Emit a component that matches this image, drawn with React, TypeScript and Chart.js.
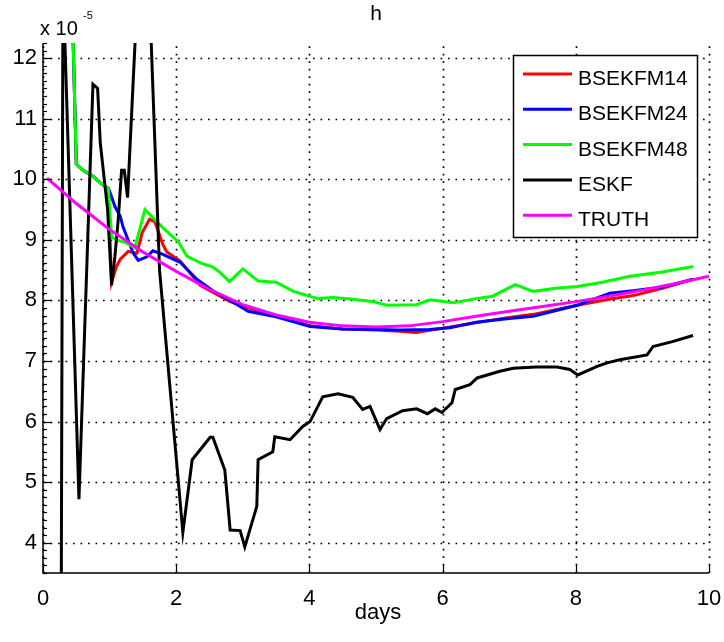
import React, { useEffect, useRef } from "react";
import { Chart, registerables } from "chart.js";

Chart.register(...registerables);

// ---------- data (in units of 1e-5) ----------
const seriesNames = ["BSEKFM14", "BSEKFM24", "BSEKFM48", "ESKF", "TRUTH"];
const seriesColors = ["#ff0000", "#0000ff", "#00ff00", "#000000", "#ff00ff"];

const bsekfm14Days = [0.44, 0.5, 0.6, 0.75, 0.88, 0.98, 1.03, 1.1, 1.16, 1.28, 1.41, 1.49, 1.6, 1.68, 1.8, 1.86, 2.06, 2.36, 2.81, 3.08, 3.5, 4.01, 4.5, 5.0, 5.36, 5.6, 6.16, 6.5, 7.0, 7.36, 8.02, 8.5, 8.86, 9.3, 9.76];
const bsekfm14Values = [12.8, 10.25, 10.15, 10.05, 9.92, 9.85, 8.3, 8.55, 8.68, 8.81, 8.78, 9.12, 9.34, 9.3, 8.92, 8.8, 8.65, 8.25, 7.98, 7.88, 7.75, 7.58, 7.53, 7.51, 7.49, 7.47, 7.57, 7.63, 7.72, 7.77, 7.92, 8.02, 8.08, 8.2, 8.35];

const bsekfm24Days = [0.44, 0.5, 0.6, 0.75, 0.88, 0.98, 1.0, 1.08, 1.16, 1.2, 1.35, 1.43, 1.56, 1.65, 1.8, 2.06, 2.31, 2.55, 2.81, 3.08, 3.5, 4.01, 4.5, 5.0, 5.36, 5.8, 6.11, 6.5, 7.0, 7.36, 8.02, 8.51, 8.86, 9.3, 9.76];
const bsekfm24Values = [12.8, 10.25, 10.15, 10.05, 9.92, 9.85, 9.8, 9.55, 9.39, 9.22, 8.79, 8.66, 8.72, 8.82, 8.76, 8.63, 8.35, 8.16, 8.0, 7.82, 7.73, 7.57, 7.53, 7.52, 7.51, 7.52, 7.55, 7.64, 7.7, 7.74, 7.92, 8.12, 8.16, 8.22, 8.35];

const bsekfm48Days = [0.44, 0.5, 0.6, 0.75, 0.88, 0.98, 1.03, 1.1, 1.25, 1.38, 1.53, 1.65, 1.8, 1.9, 2.03, 2.16, 2.36, 2.55, 2.66, 2.8, 3.0, 3.23, 3.5, 3.76, 4.13, 4.36, 4.65, 4.96, 5.16, 5.61, 5.81, 6.16, 6.5, 6.75, 7.09, 7.36, 7.7, 8.02, 8.4, 8.81, 9.3, 9.76];
const bsekfm48Values = [12.8, 10.25, 10.15, 10.05, 9.92, 9.85, 9.05, 9.0, 8.95, 8.87, 9.5, 9.37, 9.2, 9.1, 8.97, 8.73, 8.62, 8.55, 8.46, 8.31, 8.52, 8.32, 8.3, 8.15, 8.03, 8.05, 8.02, 7.98, 7.92, 7.93, 8.01, 7.96, 8.03, 8.07, 8.26, 8.15, 8.2, 8.23, 8.3, 8.4, 8.47, 8.56];

const eskfDays = [0.27, 0.3, 0.54, 0.75, 0.82, 0.86, 0.97, 1.03, 1.08, 1.13, 1.18, 1.22, 1.27, 1.52, 1.75, 2.1, 2.24, 2.51, 2.55, 2.73, 2.81, 2.96, 3.03, 3.21, 3.23, 3.45, 3.48, 3.71, 3.9, 4.01, 4.2, 4.43, 4.65, 4.8, 4.91, 5.06, 5.16, 5.4, 5.61, 5.77, 5.89, 5.99, 6.14, 6.19, 6.41, 6.52, 6.86, 7.06, 7.4, 7.72, 7.91, 8.03, 8.32, 8.47, 8.66, 9.07, 9.16, 9.45, 9.76];
const eskfValues = [1.5, 13.3, 4.72, 11.57, 11.5, 10.6, 9.5, 8.25, 8.73, 9.34, 10.15, 10.15, 9.7, 15.4, 8.5, 4.17, 5.37, 5.74, 5.74, 5.2, 4.21, 4.2, 3.93, 4.6, 5.37, 5.5, 5.75, 5.7, 5.92, 6.0, 6.41, 6.46, 6.4, 6.2, 6.25, 5.87, 6.05, 6.18, 6.21, 6.13, 6.21, 6.15, 6.31, 6.53, 6.61, 6.72, 6.83, 6.88, 6.9, 6.9, 6.86, 6.77, 6.91, 6.97, 7.02, 7.1, 7.24, 7.32, 7.42];

const truthDays = [0.06, 0.5, 1.0, 1.5, 2.0, 2.5, 3.0, 3.5, 4.0, 4.5, 5.0, 5.5, 6.0, 6.5, 7.0, 7.5, 8.0, 8.5, 9.0, 9.5, 10.0];
const truthValues = [10.02, 9.6, 9.17, 8.8, 8.48, 8.18, 7.93, 7.76, 7.64, 7.58, 7.56, 7.58, 7.65, 7.74, 7.82, 7.9, 7.98, 8.07, 8.17, 8.28, 8.4];

const allDays = [bsekfm14Days, bsekfm24Days, bsekfm48Days, eskfDays, truthDays];
const allValues = [bsekfm14Values, bsekfm24Values, bsekfm48Values, eskfValues, truthValues];

const xRange = [0, 10];
const yRange = [3.5, 12.25];
const xTickStep = 2;
const yTickStep = 1;
const yMinorStep = 0.125;

const titleText = "h";
const xAxisTitle = "days";
const yExponentBase = "x 10";
const yExponent = "-5";

const FONT = "'Liberation Sans', Arial, sans-serif";

const decorPlugin = {
  id: "matlabDecor",
  beforeDatasetsDraw(chart: any) {
    const { ctx, chartArea: a, scales } = chart;
    const xs = scales.x;
    const ys = scales.y;
    ctx.save();
    ctx.strokeStyle = "#000";
    ctx.lineWidth = 1.7;
    ctx.setLineDash([1.7, 5.8]);
    xs.ticks.forEach((t: any) => {
      const px = Math.round(xs.getPixelForValue(t.value)) + 0.5;
      ctx.beginPath();
      ctx.moveTo(px, a.bottom);
      ctx.lineTo(px, a.top);
      ctx.stroke();
    });
    ys.ticks.forEach((t: any) => {
      const py = Math.round(ys.getPixelForValue(t.value)) + 0.5;
      ctx.beginPath();
      ctx.moveTo(a.left, py);
      ctx.lineTo(a.right, py);
      ctx.stroke();
    });
    ctx.restore();
  },
  afterDatasetsDraw(chart: any) {
    const { ctx, chartArea: a, scales } = chart;
    const xs = scales.x;
    const ys = scales.y;
    ctx.save();
    // axes
    ctx.strokeStyle = "#000";
    ctx.lineWidth = 1.5;
    ctx.setLineDash([]);
    ctx.beginPath();
    ctx.moveTo(a.left, a.top);
    ctx.lineTo(a.left, a.bottom);
    ctx.lineTo(a.right, a.bottom);
    ctx.stroke();
    // y major ticks
    ctx.lineWidth = 1.2;
    ys.ticks.forEach((t: any) => {
      const py = Math.round(ys.getPixelForValue(t.value)) + 0.5;
      ctx.beginPath();
      ctx.moveTo(a.left, py);
      ctx.lineTo(a.left + 9, py);
      ctx.stroke();
    });
    // y minor ticks
    const start = Math.ceil(ys.min / yMinorStep) * yMinorStep;
    for (let v = start; v <= ys.max + 1e-9; v += yMinorStep) {
      const py = Math.round(ys.getPixelForValue(v)) + 0.5;
      ctx.beginPath();
      ctx.moveTo(a.left, py);
      ctx.lineTo(a.left + 4, py);
      ctx.stroke();
    }
    // x ticks
    xs.ticks.forEach((t: any) => {
      const px = Math.round(xs.getPixelForValue(t.value)) + 0.5;
      ctx.beginPath();
      ctx.moveTo(px, a.bottom);
      ctx.lineTo(px, a.bottom - 8);
      ctx.stroke();
    });

    // legend
    const bx = a.right - 196;
    const by = a.top + 12;
    const bw = 184;
    const bh = 182;
    ctx.fillStyle = "#fff";
    ctx.fillRect(bx, by, bw, bh);
    ctx.lineWidth = 1.5;
    ctx.strokeStyle = "#000";
    ctx.strokeRect(bx + 0.5, by + 0.5, bw, bh);
    ctx.font = `21px ${FONT}`;
    ctx.textAlign = "left";
    ctx.textBaseline = "alphabetic";
    chart.data.datasets.forEach((ds: any, i: number) => {
      const ly = by + 19 + i * 35.3;
      ctx.strokeStyle = ds.borderColor;
      ctx.lineWidth = 3;
      ctx.beginPath();
      ctx.moveTo(bx + 10, ly);
      ctx.lineTo(bx + 59, ly);
      ctx.stroke();
      ctx.fillStyle = "#000";
      ctx.fillText(ds.label, bx + 65, ly + 11);
    });

    // title
    ctx.fillStyle = "#000";
    ctx.font = `21px ${FONT}`;
    ctx.textAlign = "center";
    ctx.fillText(titleText, (a.left + a.right) / 2, a.top - 23);
    // x axis title
    ctx.font = `22px ${FONT}`;
    ctx.fillText(xAxisTitle, (a.left + a.right) / 2 + 2, a.bottom + 46);
    // exponent label
    ctx.textAlign = "left";
    ctx.font = `20px ${FONT}`;
    ctx.fillText(yExponentBase, a.left - 3, a.top - 8);
    ctx.font = `11px ${FONT}`;
    ctx.fillText(yExponent, a.left + 40, a.top - 24);
    ctx.restore();
  },
};

export default function App() {
  const ref = useRef<HTMLCanvasElement | null>(null);
  useEffect(() => {
    if (!ref.current) return;
    const datasets = seriesNames.map((name, i) => ({
      label: name,
      data: allDays[i].map((d, j) => ({ x: d, y: allValues[i][j] })),
      borderColor: seriesColors[i],
      backgroundColor: seriesColors[i],
      borderWidth: 3,
      pointRadius: 0,
      tension: 0,
      fill: false,
      order: seriesNames.length - 1 - i,
    }));
    const chart = new Chart(ref.current, {
      type: "line",
      data: { datasets },
      options: {
        animation: false,
        responsive: false,
        events: [],
        layout: { padding: { left: 0, right: 15, top: 43, bottom: 0 } },
        plugins: { legend: { display: false }, title: { display: false }, tooltip: { enabled: false } },
        scales: {
          x: {
            type: "linear",
            min: xRange[0],
            max: xRange[1],
            afterFit: (s: any) => { s.height = 69; s.paddingLeft = 0; s.paddingRight = 0; },
            grid: { display: false, drawTicks: false },
            border: { display: false },
            ticks: { stepSize: xTickStep, includeBounds: false, padding: 13, maxRotation: 0, color: "#000", font: { family: FONT, size: 22 } },
          },
          y: {
            type: "linear",
            min: yRange[0],
            max: yRange[1],
            afterFit: (s: any) => { s.width = 43; s.paddingTop = 0; s.paddingBottom = 0; },
            grid: { display: false, drawTicks: false },
            border: { display: false },
            ticks: { stepSize: yTickStep, includeBounds: false, padding: 6, color: "#000", font: { family: FONT, size: 22 } },
          },
        },
      },
      plugins: [decorPlugin],
    } as any);
    return () => chart.destroy();
  }, []);
  return (
    <div style={{ position: "absolute", left: 0, top: 0, width: 724, height: 642, background: "#fff" }}>
      <canvas ref={ref} width={724} height={642} style={{ display: "block" }} />
    </div>
  );
}
